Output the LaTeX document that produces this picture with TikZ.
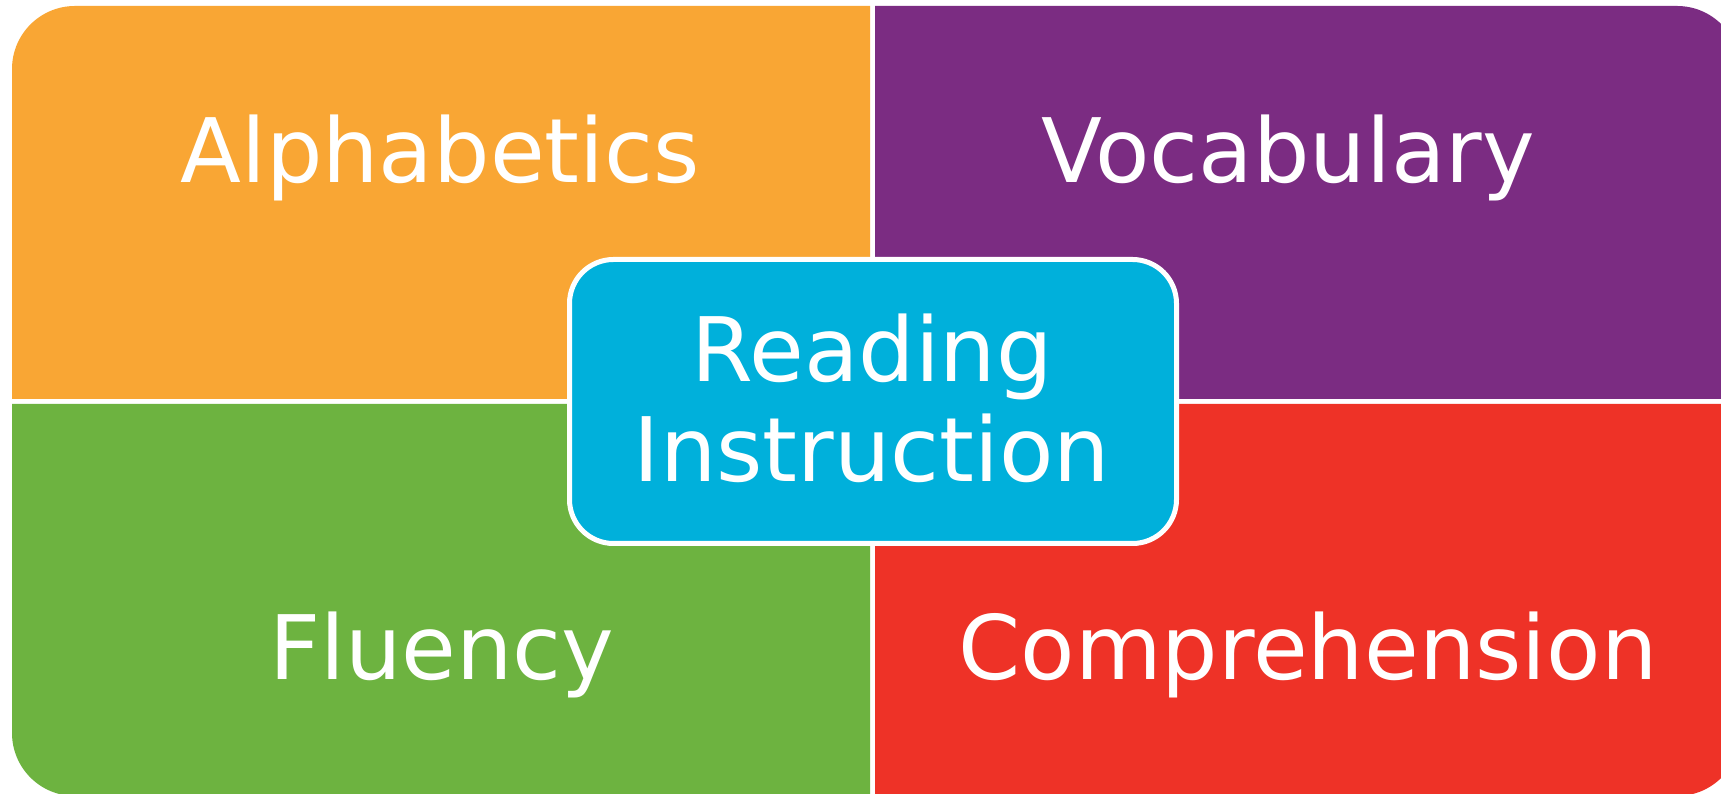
\documentclass[tikz,border=0pt]{standalone}
\usepackage{fontspec}
\setmainfont{DejaVu Sans}
\definecolor{qorange}{RGB}{249,166,52}
\definecolor{qpurple}{RGB}{123,44,130}
\definecolor{qgreen}{RGB}{109,179,64}
\definecolor{qred}{RGB}{238,50,39}
\definecolor{qblue}{RGB}{0,176,219}
\tikzset{
  lbl/.style={text=white, anchor=base, inner sep=0pt, font=\fontsize{89}{100}\selectfont},
  hub/.style={rectangle, rounded corners=44pt, fill=qblue, draw=white, line width=5pt,
              minimum width=607pt, minimum height=284pt, inner sep=0pt}
}
\begin{document}
\begin{tikzpicture}[x=1pt,y=1pt]
\useasboundingbox (0,0) rectangle (1721,794);
\fill[white] (0,0) rectangle (1721,794);
\begin{scope}
\clip (0,0) rectangle (1721,794);
% quadrants
\fill[qorange] (12,395) -- (12,725) arc[start angle=180,end angle=90,radius=63] -- (870,788) -- (870,395) -- cycle;
\fill[qpurple] (875,395) -- (875,788) -- (1677,788) arc[start angle=90,end angle=0,radius=63] -- (1740,395) -- cycle;
\fill[qgreen] (12,390) -- (870,390) -- (870,-2) -- (75,-2) arc[start angle=270,end angle=180,radius=63] -- cycle;
\fill[qred] (875,390) -- (1740,390) -- (1740,61) arc[start angle=0,end angle=-90,radius=63] -- (875,-2) -- cycle;
\end{scope}
% labels
\node[lbl] (alpha) at (440,611) {Alphabetics};
\node[lbl] (vocab) at (1288,611) {Vocabulary};
\node[lbl] (flu) at (442,114) {Fluency};
\node[lbl] (comp) at (1308,114) {Comprehension};
% centre
\node[hub] (hubbox) at (873,392.5) {};
\node[lbl] (read) at (872,412) {Reading};
\node[lbl] (instr) at (872,312) {Instruction};
\end{tikzpicture}
\end{document}
